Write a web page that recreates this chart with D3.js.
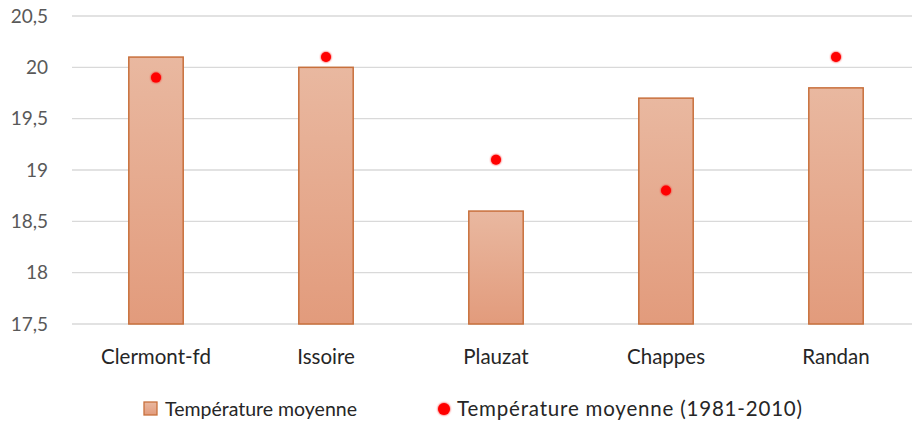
<!DOCTYPE html>
<html><head><meta charset="utf-8">
<script src="https://cdn.jsdelivr.net/npm/d3@7"></script>
<style>body{margin:0;background:#fff}svg{display:block}text{font-family:Lato,"Open Sans",sans-serif}</style>
</head><body><svg id="c" width="912" height="422"></svg>
<script>
const categories = ["Clermont-fd","Issoire","Plauzat","Chappes","Randan"];
const tempMoyenne = [20.1, 20.0, 18.6, 19.7, 19.8];
const tempNormale = [19.9, 20.1, 19.1, 18.8, 20.1];
const yTicks = [17.5, 18, 18.5, 19, 19.5, 20, 20.5];
const seriesNames = ["Température moyenne", "Température moyenne (1981-2010)"];

const svg = d3.select("#c");
const x = d3.scaleBand().domain(categories).range([71, 921]).paddingInner(0.68).paddingOuter(0.34);
const y = d3.scaleLinear().domain([17.5, 20.5]).range([324, 16]);
const fmt = d => String(d).replace(".", ",");

const defs = svg.append("defs");
const g = defs.append("linearGradient").attr("id","bg").attr("x1",0).attr("y1",0).attr("x2",0).attr("y2",1);
g.append("stop").attr("offset","0%").attr("stop-color","#e9b8a0");
g.append("stop").attr("offset","100%").attr("stop-color","#e29b7c");
const lg = defs.append("linearGradient").attr("id","lg").attr("x1",0).attr("y1",0).attr("x2",0).attr("y2",1);
lg.append("stop").attr("offset","0%").attr("stop-color","#e9b8a0");
lg.append("stop").attr("offset","100%").attr("stop-color","#e29b7c");
const f = defs.append("filter").attr("id","glow").attr("x","-50%").attr("y","-50%").attr("width","200%").attr("height","200%");
f.append("feGaussianBlur").attr("in","SourceGraphic").attr("stdDeviation",1.2).attr("result","b");
const fm = f.append("feMerge"); fm.append("feMergeNode").attr("in","b"); fm.append("feMergeNode").attr("in","SourceGraphic");

// gridlines
svg.append("g").selectAll("line").data(yTicks).join("line")
  .attr("x1",72).attr("x2",912).attr("y1",d=>y(d)).attr("y2",d=>y(d))
  .attr("stroke","#d9d9d9").attr("stroke-width",1.3);

// y labels
const yAxis = svg.append("g").attr("transform","translate(48,0)")
  .call(d3.axisLeft(y).tickValues(yTicks).tickFormat(fmt).tickSize(0).tickPadding(0));
yAxis.select(".domain").remove();
yAxis.selectAll("text").attr("fill","#595959").style("font-size","19px").style("font-family","Lato,'Open Sans',sans-serif");

// bars
svg.append("g").selectAll("rect").data(tempMoyenne).join("rect")
  .attr("x",(d,i)=>x(categories[i])).attr("width",x.bandwidth())
  .attr("y",d=>y(d)).attr("height",d=>y(17.5)-y(d))
  .attr("fill","url(#bg)").attr("stroke","#c8703c").attr("stroke-width",1.5);

// dots
svg.append("g").selectAll("circle").data(tempNormale).join("circle")
  .attr("cx",(d,i)=>x(categories[i])+x.bandwidth()/2).attr("cy",d=>y(d)).attr("r",5)
  .attr("fill","#ff0000").attr("filter","url(#glow)");

// x labels
const xAxis = svg.append("g")
  .call(d3.axisBottom(x).tickSize(0).tickPadding(0));
xAxis.select(".domain").remove();
xAxis.selectAll("text").attr("y",364).attr("dy",null).attr("fill","#262626")
  .style("font-size","20.5px").style("font-family","Lato,'Open Sans',sans-serif");

// legend
const leg = svg.append("g");
leg.append("rect").attr("x",144).attr("y",402).attr("width",13).attr("height",13)
  .attr("fill","url(#lg)").attr("stroke","#c8703c").attr("stroke-width",1.3);
leg.append("text").attr("x",165).attr("y",416).attr("fill","#262626").style("font-size","19.5px")
  .text(seriesNames[0]);
leg.append("circle").attr("cx",444).attr("cy",409).attr("r",6).attr("fill","#ff0000").attr("filter","url(#glow)");
leg.append("text").attr("x",457).attr("y",416).attr("fill","#262626").style("font-size","20.5px")
  .attr("textLength",345).attr("lengthAdjust","spacing").text(seriesNames[1]);
</script></body></html>
